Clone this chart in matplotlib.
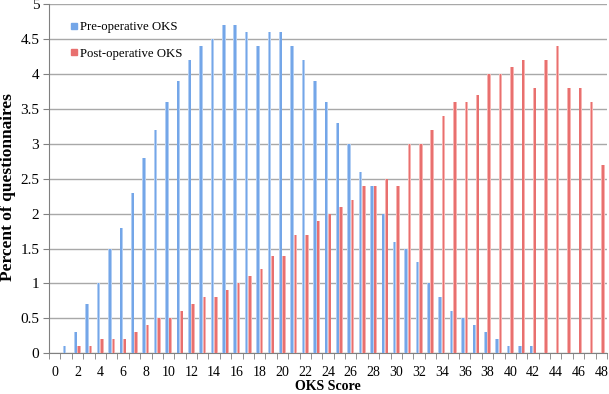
import numpy as np
import matplotlib.pyplot as plt

scores = list(range(0, 49))
pre_op = [0, 0.1, 0.3, 0.7, 1.0, 1.5, 1.8, 2.3, 2.8, 3.2, 3.6, 3.9, 4.2, 4.4, 4.5, 4.7, 4.7,
          4.6, 4.4, 4.6, 4.6, 4.4, 4.2, 3.9, 3.6, 3.3, 3.0, 2.6, 2.4, 2.0, 1.6, 1.5, 1.3,
          1.0, 0.8, 0.6, 0.5, 0.4, 0.3, 0.2, 0.1, 0.1, 0.1, 0, 0, 0, 0, 0, 0]
post_op = [0, 0, 0.1, 0.1, 0.2, 0.2, 0.2, 0.3, 0.4, 0.5, 0.5, 0.6, 0.7, 0.8, 0.8, 0.9, 1.0,
           1.1, 1.2, 1.4, 1.4, 1.7, 1.7, 1.9, 2.0, 2.1, 2.2, 2.4, 2.4, 2.5, 2.4, 3.0, 3.0,
           3.2, 3.4, 3.6, 3.6, 3.7, 4.0, 4.0, 4.1, 4.2, 3.8, 4.2, 4.4, 3.8, 3.8, 3.6, 2.7]
tick_labels = [str(s) for s in scores if s % 2 == 0]

plt.rcParams['font.family'] = ['Liberation Serif', 'DejaVu Serif']

fig = plt.figure(figsize=(6.09, 3.94), dpi=100)
ax = fig.add_axes([0.0805, 0.1033, 0.9162, 0.8865])

x = np.array(scores)
w = 0.3
# light outer bar + darker core to imitate the gradient fill
ax.bar(x - w / 2, pre_op, width=w, color="#b2cef3", zorder=3)
ax.bar(x - w / 2, pre_op, width=w * 0.5, color="#74a6e8", zorder=4)
ax.bar(x + w / 2, post_op, width=w, color="#f7b3b1", zorder=3)
ax.bar(x + w / 2, post_op, width=w * 0.5, color="#e8706f", zorder=4)

ax.set_xlim(-0.5, 48.5)
ax.set_ylim(0, 5)
ax.set_yticks(np.arange(0, 5.01, 0.5))
ax.set_yticklabels(["0", "0.5", "1", "1.5", "2", "2.5", "3", "3.5", "4", "4.5", "5"])
ax.set_xticks([s for s in scores if s % 2 == 0])
ax.set_xticklabels(tick_labels)
ax.set_xticks(np.arange(-0.5, 48.6, 1), minor=True)
ax.tick_params(axis="x", which="major", length=0, pad=9, labelsize=10)
ax.tick_params(axis="x", which="minor", length=4, color="#808080", direction="out")
ax.tick_params(axis="y", length=4, color="#808080", labelsize=11, pad=3)

ax.grid(axis="y", color="#a8a8a8", linewidth=1, zorder=0)
for s in ["top", "right"]:
    ax.spines[s].set_visible(False)
ax.spines["left"].set_color("#808080")
ax.spines["bottom"].set_color("#808080")

ax.set_xlabel("OKS Score", fontsize=10, fontweight="bold", labelpad=1)
ax.set_ylabel("Percent of questionnaires", fontsize=12.5, fontweight="bold", labelpad=3)
ax.yaxis.label.set_y(0.475)

ax.plot([], [], "s", color="#74a6e8", markersize=4, label="Pre-operative OKS")
ax.plot([], [], "s", color="#e8706f", markersize=4, label="Post-operative OKS")
ax.legend(loc="upper left", bbox_to_anchor=(0.015, 0.984), frameon=False, fontsize=9.2,
          handletextpad=0.1, labelspacing=1.15, handlelength=0.8)

fig.savefig("out.png", dpi=100)
